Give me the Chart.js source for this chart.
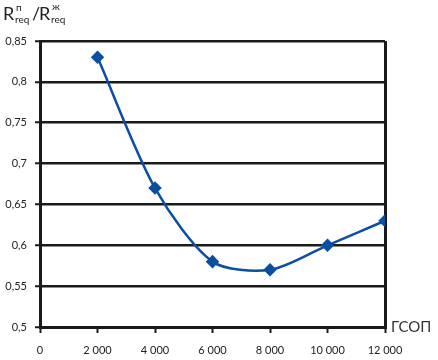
<!DOCTYPE html>
<html>
<head>
<meta charset="utf-8">
<script src="https://cdn.jsdelivr.net/npm/chart.js@4/dist/chart.umd.min.js"></script>
<style>
  html, body { margin: 0; padding: 0; background: #fff; }
  #wrap { position: relative; width: 438px; height: 360px; }
  canvas { position: absolute; left: 0; top: 0; }
  .t { position: absolute; font-family: Lato, "DejaVu Sans", sans-serif; color: #222; white-space: nowrap; line-height: 1; }
</style>
</head>
<body>
<div id="wrap">
  <canvas id="c" width="438" height="360"></canvas>
  <span class="t" style="left:3px;top:4px;font-size:18px;">R</span>
  <span class="t" style="left:16px;top:2px;font-size:10px;">п</span>
  <span class="t" style="left:15px;top:14px;font-size:10px;">req</span>
  <span class="t" style="left:32px;top:4px;font-size:18px;">/</span>
  <span class="t" style="left:39px;top:4px;font-size:18px;">R</span>
  <span class="t" style="left:52px;top:1px;font-size:10px;">ж</span>
  <span class="t" style="left:51px;top:14px;font-size:10px;">req</span>
  <span class="t" style="left:391px;top:319px;font-size:15px;color:#333;">ГСОП</span>
</div>
<script>
const gsop = [2000, 4000, 6000, 8000, 10000, 12000];
const ratio = [0.83, 0.67, 0.58, 0.57, 0.60, 0.63];
const xTicks = [0, 2000, 4000, 6000, 8000, 10000, 12000];
const xTickLabels = ["0", "2 000", "4 000", "6 000", "8 000", "10 000", "12 000"];
const yTicks = [0.5, 0.55, 0.6, 0.65, 0.7, 0.75, 0.8, 0.85];
const yTickLabels = ["0,5", "0,55", "0,6", "0,65", "0,7", "0,75", "0,8", "0,85"];

const points = gsop.map((g, i) => ({ x: g, y: ratio[i] }));

new Chart(document.getElementById('c'), {
  type: 'line',
  data: {
    datasets: [{
      data: points,
      borderColor: '#0b4ea2',
      backgroundColor: '#0b4ea2',
      borderWidth: 2.5,
      tension: 0.28,
      pointStyle: 'rectRot',
      pointRadius: 5,
      pointHoverRadius: 5,
      fill: false
    }]
  },
  options: {
    responsive: false,
    animation: false,
    events: [],
    layout: { padding: { top: 41, right: 53, left: 0, bottom: 0 } },
    plugins: { legend: { display: false }, tooltip: { enabled: false } },
    scales: {
      x: {
        type: 'linear',
        min: 0, max: 12000,
        afterBuildTicks: s => { s.ticks = xTicks.map(v => ({ value: v })); },
        afterFit: s => { s.height = 33; },
        border: { display: true, color: '#1a1a1a', width: 3 },
        grid: {
          drawOnChartArea: true,
          color: ctx => (ctx.tick && ctx.tick.value === 12000) ? '#1a1a1a' : 'rgba(0,0,0,0)',
          lineWidth: 3,
          tickColor: '#1a1a1a',
          tickLength: 6,
          tickWidth: 2
        },
        ticks: {
          color: '#222',
          font: { family: 'Lato, "DejaVu Sans", sans-serif', size: 11 },
          padding: 11,
          maxRotation: 0,
          autoSkip: false,
          callback: (v) => { const i = xTicks.indexOf(v); return i >= 0 ? xTickLabels[i] : ''; }
        }
      },
      y: {
        type: 'linear',
        min: 0.5, max: 0.85,
        afterBuildTicks: s => { s.ticks = yTicks.map(v => ({ value: v })); },
        afterFit: s => { s.width = 40; },
        border: { display: true, color: '#1a1a1a', width: 3 },
        grid: {
          color: '#1a1a1a',
          lineWidth: 2.5,
          tickColor: '#1a1a1a',
          tickLength: 5,
          tickWidth: 2
        },
        ticks: {
          color: '#222',
          font: { family: 'Lato, "DejaVu Sans", sans-serif', size: 11 },
          padding: 8,
          autoSkip: false,
          callback: (v) => { const i = yTicks.findIndex(t => Math.abs(t - v) < 1e-9); return i >= 0 ? yTickLabels[i] : ''; }
        }
      }
    }
  }
});
</script>
</body>
</html>
